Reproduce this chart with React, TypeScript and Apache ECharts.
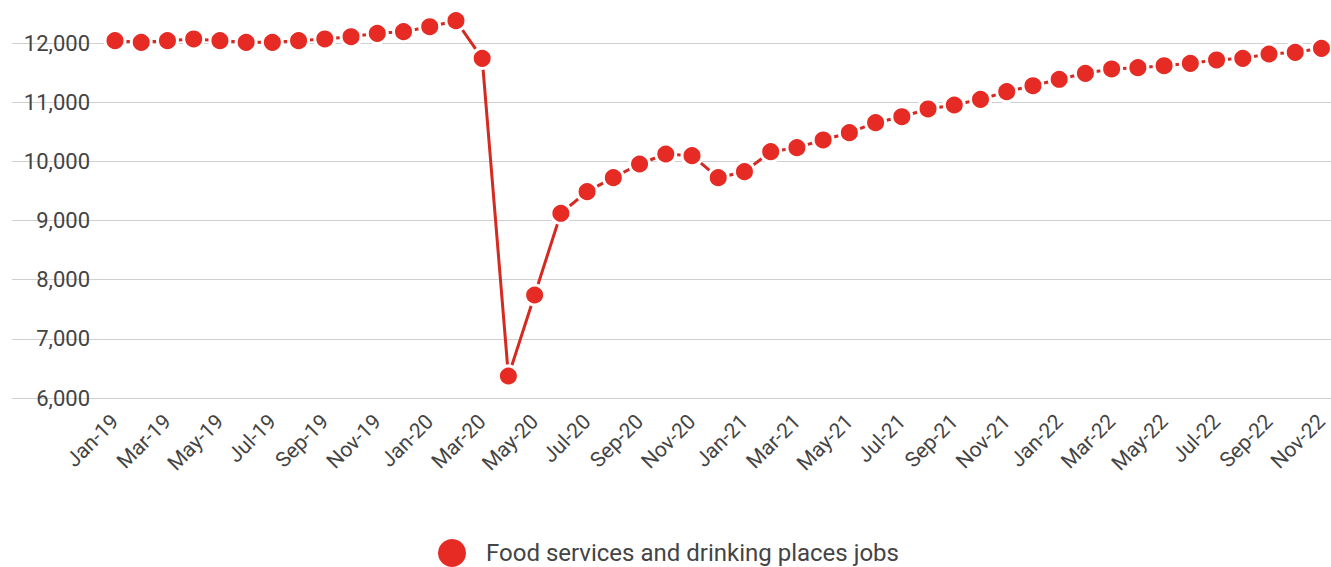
import React, { useEffect, useRef } from "react";
import * as echarts from "echarts";

const months: string[] = [
  "Jan-19", "Feb-19", "Mar-19", "Apr-19", "May-19", "Jun-19", "Jul-19", "Aug-19", "Sep-19", "Oct-19", "Nov-19", "Dec-19",
  "Jan-20", "Feb-20", "Mar-20", "Apr-20", "May-20", "Jun-20", "Jul-20", "Aug-20", "Sep-20", "Oct-20", "Nov-20", "Dec-20",
  "Jan-21", "Feb-21", "Mar-21", "Apr-21", "May-21", "Jun-21", "Jul-21", "Aug-21", "Sep-21", "Oct-21", "Nov-21", "Dec-21",
  "Jan-22", "Feb-22", "Mar-22", "Apr-22", "May-22", "Jun-22", "Jul-22", "Aug-22", "Sep-22", "Oct-22", "Nov-22",
];

const jobs: number[] = [
  12039, 12012, 12039, 12068, 12039, 12012, 12012, 12039, 12068, 12106, 12164, 12191,
  12275, 12377, 11741, 6372, 7741, 9122, 9487, 9724, 9955, 10124, 10095, 9724,
  9825, 10163, 10231, 10361, 10484, 10653, 10754, 10885, 10952, 11048, 11177, 11278,
  11387, 11488, 11561, 11583, 11616, 11657, 11713, 11741, 11814, 11843, 11910,
];

const seriesName = "Food services and drinking places jobs";
const yMin = 6000;
const yMax = 12000;
const yStep = 1000;

export default function App() {
  const ref = useRef<HTMLDivElement>(null);
  useEffect(() => {
    if (!ref.current) return;
    const chart = echarts.init(ref.current, undefined, { renderer: "svg" });
    const font = "Roboto, 'Noto Sans', sans-serif";
    chart.setOption({
      animation: false,
      textStyle: { fontFamily: font },
      grid: [
        { left: 12, right: 0, top: 43, bottom: 169 },
        { left: 115, right: 9, top: 43, bottom: 169 },
      ],
      xAxis: [
        { gridIndex: 0, type: "category", data: months, show: false, boundaryGap: false },
        {
          gridIndex: 1,
          type: "category",
          data: months,
          boundaryGap: false,
          axisLine: { show: false },
          axisTick: { show: false },
          splitLine: { show: false },
          axisLabel: {
            interval: 1,
            rotate: 45,
            margin: 20,
            fontSize: 21,
            color: "#444",
            fontFamily: font,
          },
        },
      ],
      yAxis: [
        {
          gridIndex: 0,
          type: "value",
          min: yMin,
          max: yMax,
          interval: yStep,
          axisLabel: { show: false },
          axisLine: { show: false },
          axisTick: { show: false },
          splitLine: { show: true, lineStyle: { color: "#cfcfcf", width: 1 } },
        },
        {
          gridIndex: 1,
          type: "value",
          min: yMin,
          max: yMax,
          interval: yStep,
          axisLine: { show: false },
          axisTick: { show: false },
          splitLine: { show: false },
          axisLabel: {
            margin: 25,
            fontSize: 22,
            color: "#444",
            fontFamily: font,
            formatter: (v: number) => v.toLocaleString("en-US"),
          },
        },
      ],
      legend: {
        show: true,
        left: 438,
        top: 539,
        icon: "circle",
        itemWidth: 30,
        itemHeight: 28,
        itemGap: 20,
        padding: 0,
        textStyle: { fontSize: 24, color: "#444", fontFamily: font, padding: [0, 0, 0, 14] },
        itemStyle: { borderWidth: 0 },
        data: [seriesName],
      },
      series: [
        {
          name: seriesName,
          type: "line",
          xAxisIndex: 1,
          yAxisIndex: 1,
          data: jobs,
          clip: false,
          symbol: "circle",
          symbolSize: 20,
          showSymbol: true,
          showAllSymbol: true,
          lineStyle: { color: "#d42a22", width: 3 },
          itemStyle: { color: "#e52b24", borderColor: "#ffffff", borderWidth: 3 },
        },
      ],
    });
    return () => chart.dispose();
  }, []);
  return <div ref={ref} style={{ width: 1331, height: 567, position: "absolute", left: 0, top: 0 }} />;
}
